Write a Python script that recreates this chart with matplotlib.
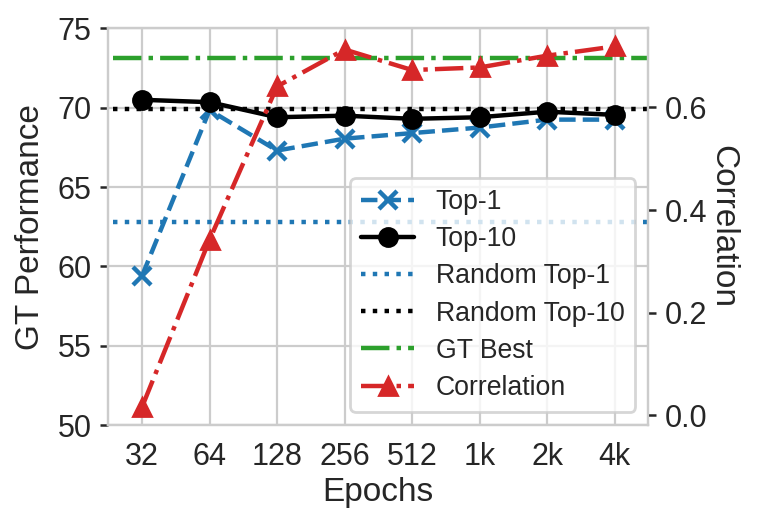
import numpy as np
import matplotlib
matplotlib.use('Agg')
import matplotlib.pyplot as plt
import seaborn as sns

epochs = ['32', '64', '128', '256', '512', '1k', '2k', '4k']
top1 = [59.4, 69.85, 67.3, 68.05, 68.4, 68.75, 69.25, 69.25]
top10 = [70.5, 70.35, 69.4, 69.5, 69.3, 69.4, 69.75, 69.55]
corr = [0.016, 0.342, 0.641, 0.713, 0.673, 0.678, 0.701, 0.719]
random_top1 = 62.78
random_top10 = 69.92
gt_best = 73.15

sns.set_style('whitegrid')
plt.rcParams['font.family'] = ['Liberation Sans', 'DejaVu Sans']

fig = plt.figure(figsize=(3.805, 2.63), dpi=200)
ax = fig.add_axes([0.1423, 0.192, 0.7097, 0.754])
x = np.arange(len(epochs))

l1, = ax.plot(x, top1, '--', marker='x', color='C0', lw=1.6, ms=6.5, mew=1.6, label='Top-1')
l2, = ax.plot(x, top10, '-', marker='o', color='k', lw=1.6, ms=6.5, label='Top-10')
l3 = ax.axhline(random_top1, xmin=0.008, ls=':', color='C0', lw=1.6, label='Random Top-1')
l4 = ax.axhline(random_top10, xmin=0.008, ls=':', color='k', lw=1.6, label='Random Top-10')
l5 = ax.axhline(gt_best, xmin=0.008, ls='-.', color='C2', lw=1.6, label='GT Best')

ax.set_xlim(-0.5, 7.5)
ax.set_ylim(50, 75)
ax.set_xticks(x)
ax.set_xticklabels(epochs)
ax.set_xlabel('Epochs', fontsize=12, labelpad=2)
ax.set_ylabel('GT Performance', fontsize=12, labelpad=4)
ax.tick_params(axis='x', labelsize=11, length=0, pad=6)
ax.tick_params(axis='y', labelsize=11, length=3, width=0.9, color='#262626', pad=3)

ax2 = ax.twinx()
l6, = ax2.plot(x, corr, '-.', marker='^', color='C3', lw=1.6, ms=6.5, label='Correlation')
ax2.grid(False)
ax2.set_yticks([0.0, 0.2, 0.4, 0.6])
ax2.set_ylabel('Correlation', fontsize=12, rotation=270, labelpad=11)
ax2.tick_params(axis='y', labelsize=11, length=3, width=0.9, color='#262626', pad=3)
for s in ax2.spines.values():
    s.set_color('.8')

ax2.legend([l1, l2, l3, l4, l5, l6],
           ['Top-1', 'Top-10', 'Random Top-1', 'Random Top-10', 'GT Best', 'Correlation'],
           loc='lower right', fontsize=9.6, labelspacing=0.42)

fig.savefig('out.png', dpi=200)
